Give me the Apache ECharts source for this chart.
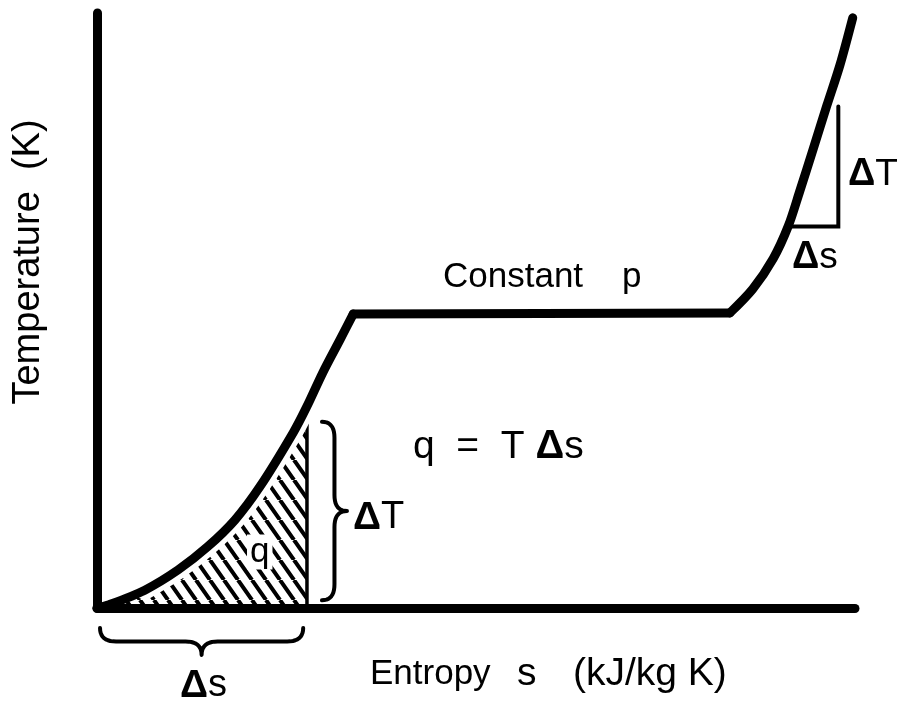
<!DOCTYPE html>
<html>
<head>
<meta charset="utf-8">
<title>T-s diagram at constant p</title>
<script src="https://cdn.jsdelivr.net/npm/echarts@6/dist/echarts.min.js"></script>
<style>
  html, body { margin: 0; padding: 0; background: #fff; }
  #ts { width: 901px; height: 706px; }
</style>
</head>
<body>
<div id="ts"></div>
<script>
// entropy s (0..100) vs temperature T (0..100), arbitrary units
const solidBranch = [
  [0, 0], [1.5, 0.5], [6.3, 3.0], [10.7, 6.4], [14.6, 10.3], [18.2, 14.8],
  [21.5, 20.4], [25.9, 29.5], [27.7, 33.9], [29.8, 39.6], [32.1, 45.2], [33.8, 49.4]
];
const plateau = [[33.8, 49.4], [83.5, 49.6]];
const liquidBranch = [
  [83.5, 49.6], [86.5, 53.6], [89.2, 58.7], [91.2, 64.2], [92.7, 70.0],
  [94.5, 77.2], [96.3, 84.5], [98.0, 91.2], [99.7, 99.2]
];
// hatched strip q under the curve, and its braces
const hatchEdge = 27.7;
const hatchTop = 31;
const deltaS = [0.4, 27.2];
const deltaT = [1.3, 31.3];
// little slope triangle on the upper branch
const slopeStep = [[91.7, 64.1], [97.8, 64.1], [97.8, 84.3]];

const FONT = '"Liberation Sans", Arial, Helvetica, sans-serif';

const hatchData = solidBranch.filter(p => p[0] <= hatchEdge);

// steep "\\\" hatching
function hatchPattern() {
  const w = 14, h = 20;
  const c = document.createElement('canvas');
  c.width = w;
  c.height = h;
  const ctx = c.getContext('2d');
  ctx.strokeStyle = '#000';
  ctx.lineWidth = 4;
  ctx.beginPath();
  [-w, 0, w].forEach(k => {
    ctx.moveTo(k, 0);
    ctx.lineTo(k + w, h);
  });
  ctx.stroke();
  return c;
}

// brace along u (0..len), tip sticking out to +v by w
function bracePoints(len, w) {
  const r = Math.min(16, len * 0.12);
  const stem = w * 0.5;
  const pts = [];
  const quad = (a, c, b) => {
    for (let i = 0; i <= 10; i++) {
      const t = i / 10;
      pts.push([
        (1 - t) * (1 - t) * a[0] + 2 * (1 - t) * t * c[0] + t * t * b[0],
        (1 - t) * (1 - t) * a[1] + 2 * (1 - t) * t * c[1] + t * t * b[1]
      ]);
    }
  };
  const m = len / 2;
  quad([0, 0], [0, stem], [r, stem]);
  quad([m - r, stem], [m, stem], [m, w]);
  quad([m, w], [m, stem], [m + r, stem]);
  quad([len - r, stem], [len, stem], [len, 0]);
  return pts;
}

function renderBraces(params, api) {
  const style = { stroke: '#000', lineWidth: 4, fill: null, lineCap: 'round', lineJoin: 'round' };
  // vertical brace for ΔT
  const top = api.coord([hatchEdge, deltaT[1]]);
  const bot = api.coord([hatchEdge, deltaT[0]]);
  const x0 = top[0] + 15;
  const vPts = bracePoints(bot[1] - top[1], 25).map(p => [x0 + p[1], top[1] + p[0]]);
  // horizontal brace for Δs, under the axis
  const left = api.coord([deltaS[0], 0]);
  const right = api.coord([deltaS[1], 0]);
  const y0 = left[1] + 20;
  const hPts = bracePoints(right[0] - left[0], 27).map(p => [left[0] + p[0], y0 + p[1]]);
  return {
    type: 'group',
    children: [
      { type: 'polyline', shape: { points: vPts }, style: style },
      { type: 'polyline', shape: { points: hPts }, style: style }
    ]
  };
}

function label(x, y, text, size, extra) {
  const g = {
    type: 'text',
    x: x,
    y: y,
    z: 100,
    style: {
      text: text,
      fontSize: size,
      fontFamily: FONT,
      fill: '#000',
      align: 'left',
      verticalAlign: 'middle',
      rich: { d: { fontSize: size + 1, fontFamily: FONT, fontWeight: 'bold' } }
    }
  };
  if (extra) {
    Object.assign(g.style, extra.style || {});
    if (extra.rotation) g.rotation = extra.rotation;
  }
  return g;
}

function curve(data, smooth) {
  return {
    type: 'line',
    data: data,
    symbol: 'none',
    smooth: smooth,
    clip: false,
    z: 4,
    lineStyle: { color: '#000', width: 9, cap: 'round', join: 'round' }
  };
}

const chart = echarts.init(document.getElementById('ts'));
const axisLine = { show: true, lineStyle: { color: '#000', width: 9, cap: 'round' } };

chart.setOption({
  animation: false,
  backgroundColor: '#fff',
  grid: { left: 97, right: 46, top: 13, bottom: 98 },
  xAxis: {
    type: 'value', min: 0, max: 100, z: 10,
    axisLine: axisLine, axisTick: { show: false }, axisLabel: { show: false }, splitLine: { show: false }
  },
  yAxis: {
    type: 'value', min: 0, max: 100, z: 10,
    axisLine: axisLine, axisTick: { show: false }, axisLabel: { show: false }, splitLine: { show: false }
  },
  series: [
    {
      // q = T Δs hatched area
      type: 'line',
      data: hatchData,
      symbol: 'none',
      smooth: 0.3,
      z: 1,
      lineStyle: { width: 0, opacity: 0 },
      areaStyle: { color: { image: hatchPattern(), repeat: 'repeat' }, opacity: 1 }
    },
    {
      type: 'line',
      data: [[hatchEdge, 0], [hatchEdge, hatchTop]],
      symbol: 'none',
      z: 2,
      lineStyle: { color: '#000', width: 3.5 }
    },
    {
      // white gap between hatching and the curve (kept clear of the axis corner)
      type: 'line',
      data: hatchData.slice(2),
      symbol: 'none',
      smooth: 0.3,
      z: 3,
      lineStyle: { color: '#fff', width: 19, cap: 'round', join: 'round' }
    },
    curve(solidBranch, 0.3),
    curve(plateau, false),
    curve(liquidBranch, 0.3),
    {
      type: 'line',
      data: slopeStep,
      symbol: 'none',
      z: 4,
      lineStyle: { color: '#000', width: 4, cap: 'round', join: 'miter' }
    },
    {
      type: 'custom',
      data: [[0, 0]],
      z: 4,
      clip: false,
      renderItem: renderBraces
    }
  ],
  graphic: [
    label(29, 262, 'Temperature  (K)', 38, { rotation: Math.PI / 2, style: { align: 'center' } }),
    label(443, 277, 'Constant    p', 35),
    label(413, 447, 'q  =  T {d|Δ}s', 39),
    label(353, 518, '{d|Δ}T', 38),
    label(848, 175, '{d|Δ}T', 37),
    label(792, 258, '{d|Δ}s', 37),
    label(180, 686, '{d|Δ}s', 38),
    label(370, 674, 'Entropy', 35),
    label(517, 674, 's', 39),
    label(573, 674, '(kJ/kg K)', 39),
    label(247, 552, 'q', 35, { style: { backgroundColor: '#fff', padding: [0, 3, 0, 3] } })
  ]
});
</script>
</body>
</html>
